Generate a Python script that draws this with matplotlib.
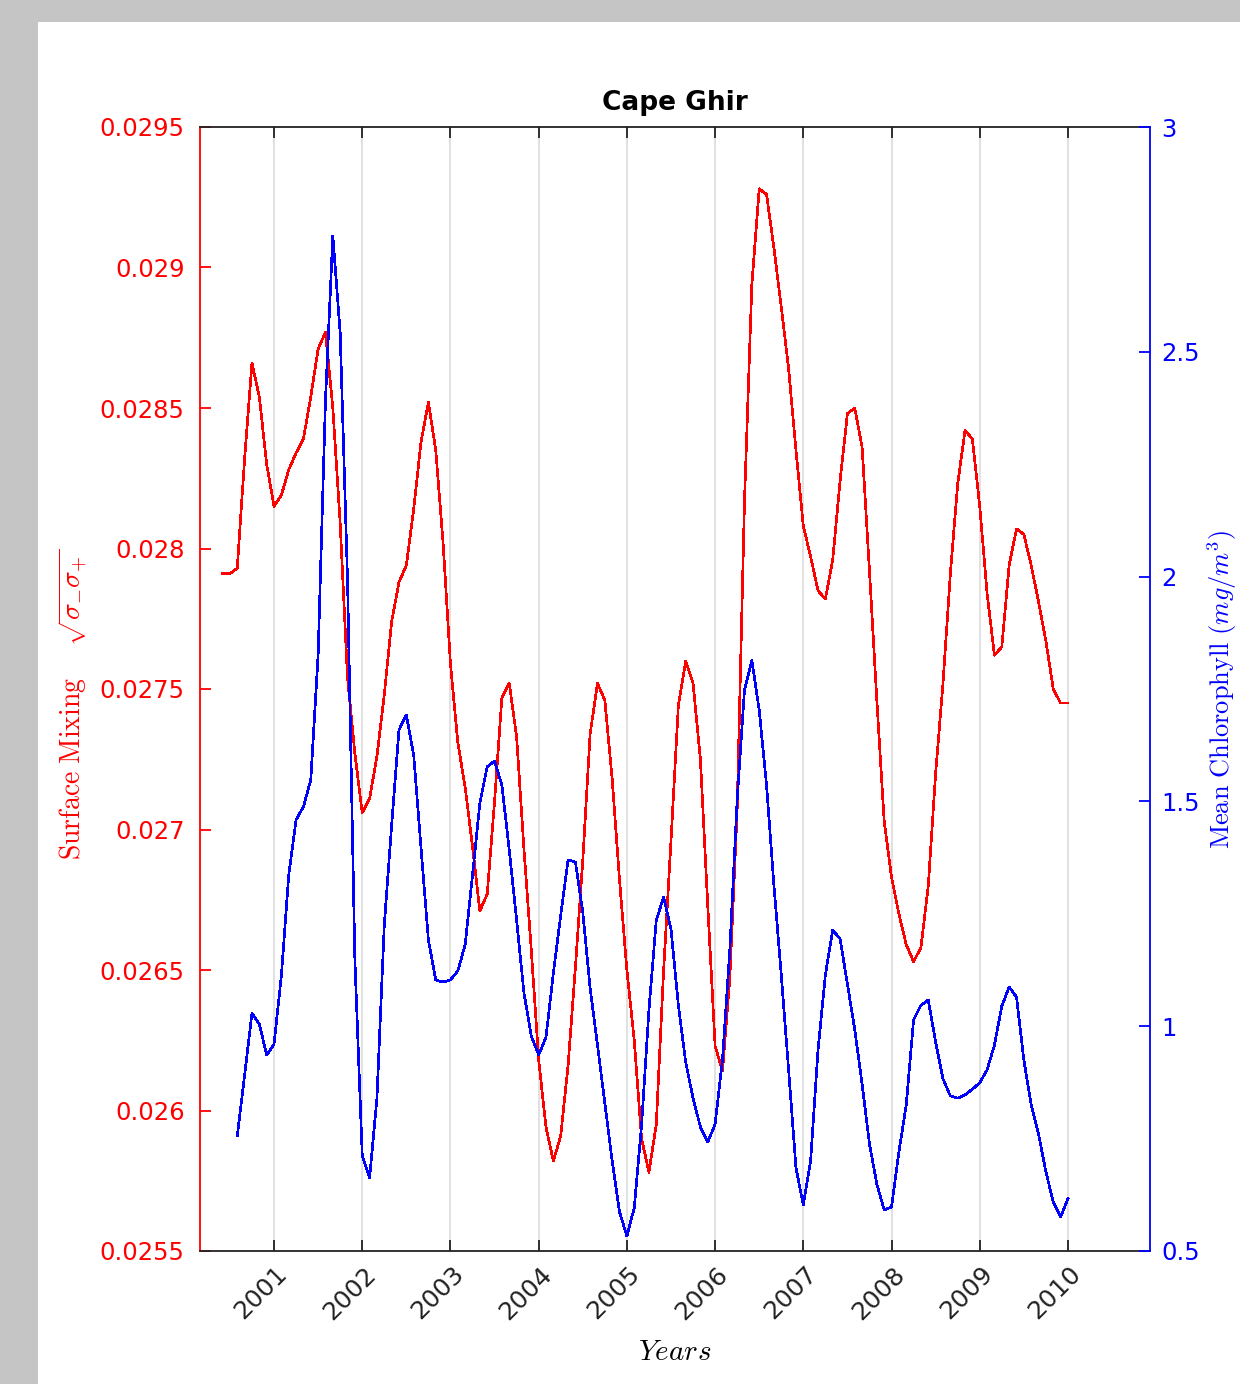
import numpy as np
import matplotlib
matplotlib.use("Agg")
import matplotlib.pyplot as plt
from matplotlib.patches import Rectangle
import matplotlib.transforms as mtransforms

plt.rcParams['mathtext.fontset'] = 'cm'

# Surface mixing (monthly, from June 2000 to January 2010)
mixing_start = 5   # month index counted from Jan 2000
mixing = [
    0.02791, 0.02791, 0.02793, 0.02832, 0.02866, 0.02854, 0.02830,                                  # 2000
    0.02815, 0.02819, 0.02828, 0.02834, 0.02839, 0.02854, 0.02871, 0.02877, 0.02850, 0.02809, 0.02754, 0.02727,  # 2001
    0.02706, 0.02711, 0.02726, 0.02748, 0.02774, 0.02788, 0.02794, 0.02814, 0.02838, 0.02852, 0.02835, 0.02802,  # 2002
    0.02759, 0.02731, 0.02715, 0.02694, 0.02671, 0.02677, 0.02710, 0.02747, 0.02752, 0.02733, 0.02693, 0.02657,  # 2003
    0.02618, 0.02594, 0.02582, 0.02591, 0.02616, 0.02651, 0.02689, 0.02734, 0.02752, 0.02746, 0.02718, 0.02682,  # 2004
    0.02650, 0.02625, 0.02590, 0.02578, 0.02595, 0.02650, 0.02696, 0.02744, 0.02760, 0.02752, 0.02725, 0.02673,  # 2005
    0.02623, 0.02614, 0.02647, 0.02707, 0.02817, 0.02894, 0.02928, 0.02926, 0.02907, 0.02886, 0.02864, 0.02835,  # 2006
    0.02808, 0.02797, 0.02785, 0.02782, 0.02796, 0.02824, 0.02848, 0.02850, 0.02836, 0.02792, 0.02746, 0.02703,  # 2007
    0.02683, 0.02670, 0.02659, 0.02653, 0.02658, 0.02680, 0.02720, 0.02752, 0.02791, 0.02823, 0.02842, 0.02839,  # 2008
    0.02815, 0.02784, 0.02762, 0.02765, 0.02794, 0.02807, 0.02805, 0.02794, 0.02781, 0.02767, 0.02750, 0.02745,  # 2009
    0.02745,                                                                                         # 2010
]

# Mean chlorophyll (monthly, from August 2000 to January 2010)
chloro_start = 7
chloro = [
    0.756, 0.891, 1.029, 1.005, 0.936,                                                  # 2000
    0.960, 1.112, 1.336, 1.459, 1.488, 1.548, 1.826, 2.393, 2.758, 2.542, 1.992, 1.147,  # 2001
    0.713, 0.662, 0.840, 1.225, 1.447, 1.659, 1.692, 1.603, 1.396, 1.192, 1.103, 1.098,  # 2002
    1.103, 1.123, 1.181, 1.336, 1.496, 1.577, 1.590, 1.536, 1.392, 1.236, 1.074, 0.978,  # 2003
    0.936, 0.976, 1.118, 1.247, 1.370, 1.365, 1.254, 1.085, 0.958, 0.829, 0.700, 0.587,  # 2004
    0.533, 0.596, 0.780, 1.036, 1.236, 1.287, 1.216, 1.047, 0.920, 0.840, 0.776, 0.742,  # 2005
    0.782, 0.925, 1.169, 1.503, 1.748, 1.814, 1.703, 1.536, 1.314, 1.114, 0.903, 0.685,  # 2006
    0.602, 0.702, 0.947, 1.114, 1.214, 1.194, 1.094, 0.992, 0.871, 0.738, 0.649, 0.591,  # 2007
    0.598, 0.720, 0.825, 1.014, 1.047, 1.058, 0.965, 0.883, 0.845, 0.840, 0.847, 0.860,  # 2008
    0.874, 0.903, 0.958, 1.045, 1.087, 1.065, 0.925, 0.825, 0.760, 0.676, 0.609, 0.576,  # 2009
    0.616,                                                                              # 2010
]

years = [2001, 2002, 2003, 2004, 2005, 2006, 2007, 2008, 2009, 2010]
mixing_ticks = [0.0255, 0.026, 0.0265, 0.027, 0.0275, 0.028, 0.0285, 0.029, 0.0295]
chloro_ticks = [0.5, 1, 1.5, 2, 2.5, 3]

t_mixing = 2000 + (mixing_start + np.arange(len(mixing))) / 12.0
t_chloro = 2000 + (chloro_start + np.arange(len(chloro))) / 12.0

# Figure: gray window with a white panel behind everything
fig = plt.figure(figsize=(12.4, 13.84), dpi=100)
fig.patch.set_facecolor('#c4c5c4')
panel = Rectangle((38 / 1240, 0), 1 - 38 / 1240, 1 - 22 / 1384,
                  transform=fig.transFigure, facecolor='white',
                  edgecolor='none', zorder=-10)
fig.add_artist(panel)

ax = fig.add_axes([200 / 1240, 1 - 1251 / 1384, 950 / 1240, 1124 / 1384])
ax.patch.set_facecolor('white')
ax2 = ax.twinx()

ax.plot(t_mixing, mixing, color='red', lw=1.2, antialiased=False)
ax2.plot(t_chloro, chloro, color='blue', lw=1.2, antialiased=False)

ax.set_xlim(2000.161, 2010.930)
ax.set_ylim(0.0255, 0.0295)
ax2.set_ylim(0.5, 3)

# Axes x : years, vertical grid, rotated labels drawn by hand (shifted left like MATLAB)
ax.set_xticks(years)
ax.set_xticklabels([])
ax.grid(axis='x', color='#dcdcdc', lw=1.2)
ax.set_axisbelow(True)
ax.tick_params(axis='x', direction='in', top=True, length=8, width=1.3,
               colors='#222222')
trans = mtransforms.blended_transform_factory(ax.transData, ax.transAxes) + \
    mtransforms.ScaledTranslation(-13 / 100, -11 / 100, fig.dpi_scale_trans)
for y in years:
    ax.text(y, 0, str(y), transform=trans, rotation=45, ha='center', va='top',
            fontsize=18, color='#222222')

# Left axis (red)
ax.set_yticks(mixing_ticks)
ax.set_yticklabels(['%g' % v for v in mixing_ticks])
ax.tick_params(axis='y', direction='in', length=8, width=1.3, labelsize=17.5,
               colors='red', pad=11)
ax.spines['left'].set_color('red')
ax.spines['right'].set_visible(False)
for s in ['top', 'bottom']:
    ax.spines[s].set_color('#222222')
    ax.spines[s].set_linewidth(1.3)
ax.spines['left'].set_linewidth(1.3)

# Right axis (blue)
ax2.set_yticks(chloro_ticks)
ax2.set_yticklabels(['%g' % v for v in chloro_ticks])
ax2.tick_params(axis='y', direction='in', length=8, width=1.3, labelsize=17.5,
                colors='blue', pad=8)
ax2.spines['right'].set_color('blue')
ax2.spines['right'].set_linewidth(1.3)
for s in ['left', 'top', 'bottom']:
    ax2.spines[s].set_visible(False)

# Labels and title
ax.set_ylabel(r'$\mathrm{Surface\ Mixing}\quad\ \sqrt{\sigma_{-}\sigma_{+}}$',
              color='red', fontsize=20)
ax.yaxis.set_label_coords(-0.1158, 0.486)
ax2.set_ylabel(r'$\mathrm{Mean\ Chlorophyll}\ (mg/m^3)$', color='blue', fontsize=19)
ax2.yaxis.set_label_coords(1.058, 0.5)
ax.set_xlabel(r'$Years$', fontsize=21)
ax.xaxis.set_label_coords(0.5, -0.077)
ax.set_title('Cape Ghir', fontweight='bold', fontsize=19, pad=12)

fig.savefig('out.png', dpi=100, facecolor=fig.get_facecolor())
